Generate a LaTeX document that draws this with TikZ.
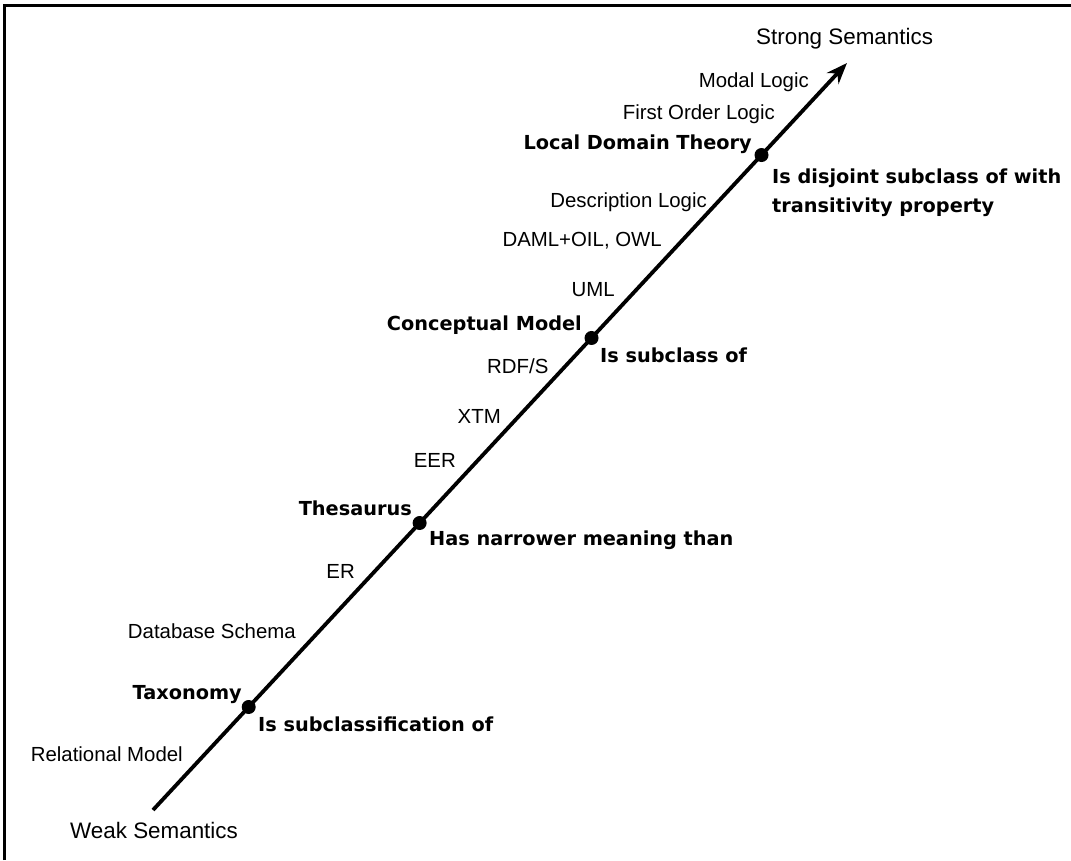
\documentclass[tikz,border=0pt]{standalone}
\usepackage{fontspec}
\setmainfont{Liberation Sans}
\newfontfamily\lblbold{DejaVu Sans}
\usetikzlibrary{arrows.meta,calc}
\tikzset{
  lbl/.style={inner sep=0pt, font=\fontsize{20.4}{24}\selectfont},
  endlbl/.style={inner sep=0pt, font=\fontsize{22.4}{27}\selectfont},
  stagelbl/.style={inner sep=0pt, font=\lblbold\bfseries\fontsize{19.3}{29}\selectfont},
  rellbl/.style={stagelbl, align=left},
  stagedot/.style={circle, fill=black, minimum size=14pt, inner sep=0pt},
  scaleaxis/.style={line width=3.8pt, -{Stealth[length=21pt,width=16pt]}},
  edgeline/.style={line width=2.5pt}
}
\begin{document}
\begin{tikzpicture}[x=1pt,y=-1pt]
\useasboundingbox (0,0) rectangle (1071,860);
% frame lines
\draw[edgeline] (4.5,860) -- (4.5,5.5) -- (1071,5.5);

% semantic axis
\coordinate (lo) at (153,810);
\coordinate (hi) at (847,63);
\draw[scaleaxis] (lo) -- (hi);
\node[stagedot] (taxdot)  at ($(lo)!0.1379!(hi)$) {};
\node[stagedot] (thesdot) at ($(lo)!0.3842!(hi)$) {};
\node[stagedot] (cmdot)   at ($(lo)!0.6319!(hi)$) {};
\node[stagedot] (ldtdot)  at ($(lo)!0.8768!(hi)$) {};

% axis ends
\node[endlbl, anchor=base west] (strong) at (756,44) {Strong Semantics};
\node[endlbl, anchor=base west] (weak) at (70,838) {Weak Semantics};

% models along the axis
\node[lbl, anchor=base east] (modal) at (809,87) {Modal Logic};
\node[lbl, anchor=base east] (fol) at (775,119) {First Order Logic};
\node[lbl, anchor=base east] (dl) at (707,207) {Description Logic};
\node[lbl, anchor=base east] (daml) at (662,246) {DAML+OIL, OWL};
\node[lbl, anchor=base east] (uml) at (615,296) {UML};
\node[lbl, anchor=base west] (rdfs) at (487,373) {RDF/S};
\node[lbl, anchor=base east] (xtm) at (501,423) {XTM};
\node[lbl, anchor=base east] (eer) at (456,467) {EER};
\node[lbl, anchor=base east] (er) at (355,578) {ER};
\node[lbl, anchor=base east] (dbs) at (296,638) {Database Schema};
\node[lbl, anchor=base east] (relm) at (183,761) {Relational Model};

% stages and their relations (base of a two-line label is its last line)
\node[stagelbl, anchor=base east] (ldt) at (752,149) {Local Domain Theory};
\node[rellbl, anchor=base west] (ldtrel) at (772,212) {Is disjoint subclass of with\\transitivity property};
\node[stagelbl, anchor=base east] (cm) at (582,330) {Conceptual Model};
\node[rellbl, anchor=base west] (cmrel) at (600,362) {Is subclass of};
\node[stagelbl, anchor=base east] (thes) at (412,515) {Thesaurus};
\node[rellbl, anchor=base west] (thesrel) at (429,545) {Has narrower meaning than};
\node[stagelbl, anchor=base east] (tax) at (242,699) {Taxonomy};
\node[rellbl, anchor=base west] (taxrel) at (258,731) {Is subclassification of};
\end{tikzpicture}
\end{document}
